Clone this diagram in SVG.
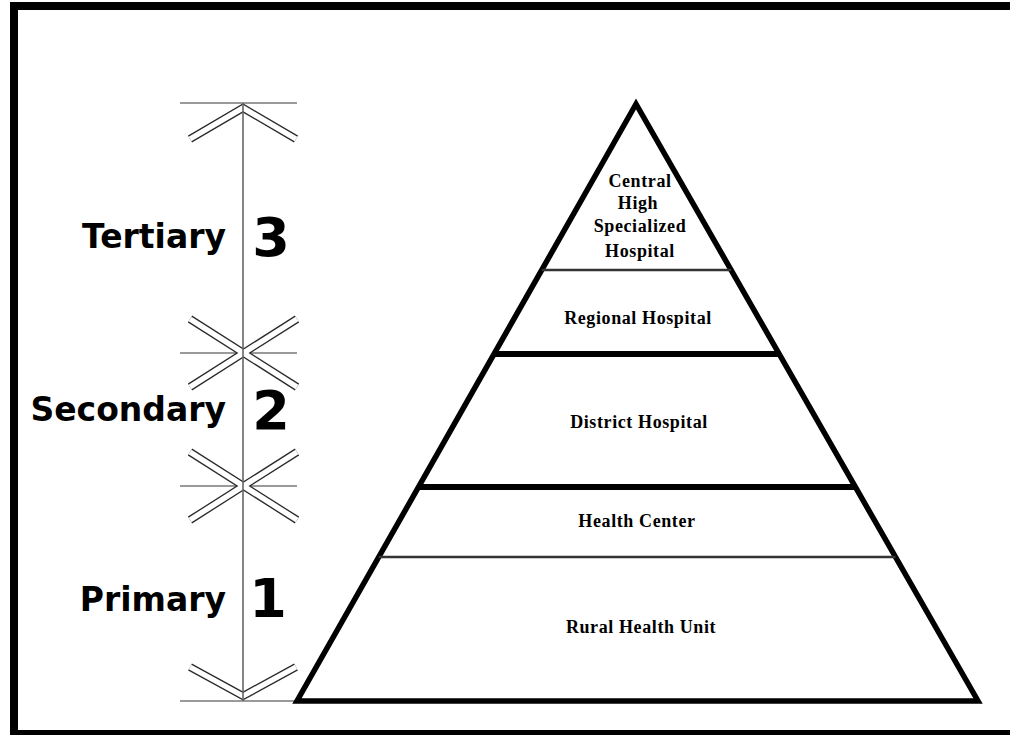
<svg xmlns="http://www.w3.org/2000/svg" width="1010" height="735" viewBox="0 0 1010 735">
<style>
.lvl{font-family:"DejaVu Sans","Verdana",sans-serif;font-weight:bold;font-size:33px;fill:#000;text-anchor:end}
.num{font-family:"DejaVu Sans","Verdana",sans-serif;font-weight:bold;font-size:54px;fill:#000;text-anchor:middle}
.t{font-family:"Liberation Serif","Times New Roman",serif;font-weight:bold;font-size:18px;letter-spacing:0.6px;fill:#000;text-anchor:middle}
.tick{stroke:#9a9a9a;stroke-width:2;fill:none}
.barO{stroke:#2a2a2a;stroke-width:8;fill:none;stroke-linejoin:miter}
.barI{stroke:#fff;stroke-width:5.4;fill:none;stroke-linejoin:miter}
.thick{stroke:#000;stroke-width:6}
.thin{stroke:#333;stroke-width:2.5}
</style>
<defs>
<g id="bars">
<polyline points="190,139 243,108 296,139"/>
<line x1="190" y1="319" x2="297" y2="387"/>
<line x1="297" y1="319" x2="190" y2="387"/>
<line x1="190" y1="452" x2="297" y2="520"/>
<line x1="297" y1="452" x2="190" y2="520"/>
<polyline points="190,667 243,696 296,667"/>
</g>
</defs>
<rect width="1010" height="735" fill="#fff"/>
<rect x="14" y="6" width="1100" height="728" fill="none" stroke="#000" stroke-width="8"/>

<g id="scale">
<line class="tick" x1="180" y1="103" x2="297" y2="103"/>
<line class="tick" x1="180" y1="353" x2="297" y2="353"/>
<line class="tick" x1="180" y1="486" x2="297" y2="486"/>
<line class="tick" x1="180" y1="701" x2="297" y2="701"/>
<use href="#bars" class="barO"/>
<use href="#bars" class="barI"/>
<line x1="243" y1="103" x2="243" y2="701" stroke="#666" stroke-width="1.6"/>
</g>

<g id="tertiary"><text class="lvl" x="226" y="248">Tertiary</text><text class="num" x="271" y="256">3</text></g>
<g id="secondary"><text class="lvl" x="226" y="421">Secondary</text><text class="num" x="271" y="429">2</text></g>
<g id="primary"><text class="lvl" x="226" y="611">Primary</text><text class="num" x="268" y="617">1</text></g>

<g id="pyramid">
<polygon points="636,104 297,701 978,701" fill="#fff" stroke="#000" stroke-width="5.5" stroke-linejoin="miter"/>
<line class="thin" x1="541.7" y1="270" x2="731.1" y2="270"/>
<line class="thick" x1="494.6" y1="354" x2="778.7" y2="354"/>
<line class="thick" x1="418.5" y1="487" x2="855.5" y2="487"/>
<line class="thin" x1="378.7" y1="557" x2="895.6" y2="557"/>
</g>

<g id="central"><text class="t" x="640" y="187">Central</text><text class="t" x="638" y="209">High</text><text class="t" x="640" y="232">Specialized</text><text class="t" x="640" y="257">Hospital</text></g>
<g id="regional"><text class="t" x="638" y="324">Regional Hospital</text></g>
<g id="district"><text class="t" x="639" y="428">District Hospital</text></g>
<g id="health-center"><text class="t" x="637" y="527">Health Center</text></g>
<g id="rural"><text class="t" x="641" y="633">Rural Health Unit</text></g>
</svg>
